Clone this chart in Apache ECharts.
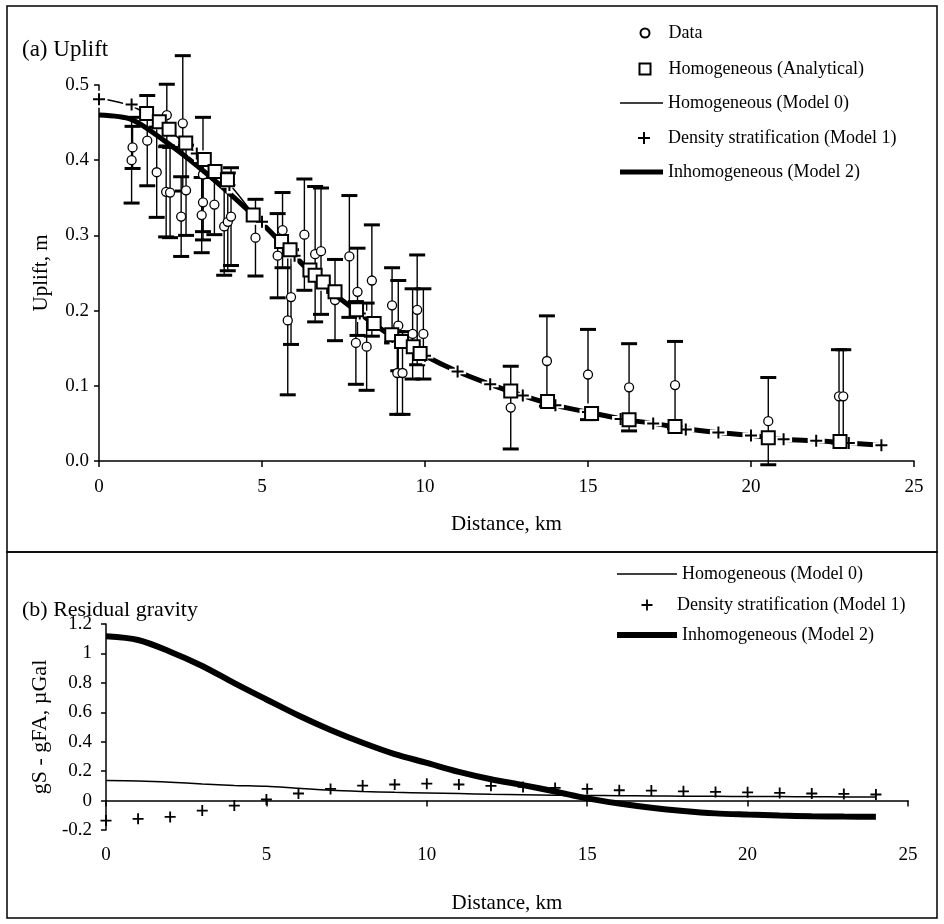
<!DOCTYPE html>
<html>
<head>
<meta charset="utf-8">
<script src="https://cdn.jsdelivr.net/npm/echarts@6/dist/echarts.min.js"></script>
<style>
  html, body { margin: 0; padding: 0; background: #fff; }
  #chart { width: 944px; height: 924px; }
</style>
</head>
<body>
<div id="chart"></div>
<script>
// model profiles, sampled every km
var distKm = [0, 1, 2, 3, 4, 5, 6, 7, 8, 9, 10, 11, 12, 13, 14, 15, 16, 17, 18, 19, 20, 21, 22, 23, 24];
var upliftModel0 = [0.482, 0.472, 0.445, 0.408, 0.368, 0.315, 0.276, 0.232, 0.198, 0.168, 0.141, 0.120, 0.100, 0.088, 0.076, 0.064, 0.057, 0.050, 0.044, 0.039, 0.034, 0.030, 0.028, 0.025, 0.022];
var upliftModel1 = [0.481, 0.474, 0.445, 0.409, 0.367, 0.318, 0.273, 0.230, 0.196, 0.165, 0.140, 0.119, 0.102, 0.087, 0.074, 0.065, 0.056, 0.050, 0.042, 0.038, 0.034, 0.029, 0.027, 0.024, 0.021];
var upliftModel2 = [0.460, 0.454, 0.426, 0.393, 0.356, 0.316, 0.272, 0.230, 0.196, 0.165, 0.140, 0.119, 0.102, 0.087, 0.074, 0.065, 0.056, 0.050, 0.043, 0.038, 0.034, 0.029, 0.027, 0.024, 0.021];

var gravityModel0 = [0.136, 0.133, 0.125, 0.113, 0.103, 0.097, 0.083, 0.070, 0.062, 0.056, 0.052, 0.048, 0.043, 0.040, 0.037, 0.035, 0.033, 0.031, 0.030, 0.029, 0.028, 0.027, 0.026, 0.025, 0.025];
var gravityModel1 = [-0.136, -0.124, -0.111, -0.068, -0.034, 0.007, 0.048, 0.079, 0.102, 0.109, 0.115, 0.109, 0.100, 0.093, 0.086, 0.079, 0.070, 0.068, 0.063, 0.059, 0.056, 0.052, 0.048, 0.045, 0.041];
var gravityModel2 = [1.116, 1.091, 1.012, 0.915, 0.798, 0.687, 0.578, 0.480, 0.393, 0.316, 0.256, 0.195, 0.145, 0.105, 0.062, 0.015, -0.020, -0.049, -0.071, -0.087, -0.095, -0.102, -0.107, -0.109, -0.110];

// observed uplift with error
var obsKm = [1.00, 1.03, 1.48, 1.77, 2.06, 2.08, 2.18, 2.52, 2.57, 2.67, 3.15, 3.19, 3.19, 3.54, 3.84, 3.95, 4.05, 4.80, 5.48, 5.63, 5.79, 5.89, 6.30, 6.63, 6.81, 7.24, 7.68, 7.88, 7.93, 8.21, 8.37, 8.99, 9.15, 9.18, 9.31, 9.62, 9.76, 9.95, 12.63, 13.74, 15.00, 16.26, 17.67, 20.53, 22.70, 22.83];
var obsUplift = [0.400, 0.417, 0.426, 0.384, 0.358, 0.460, 0.357, 0.325, 0.449, 0.360, 0.327, 0.381, 0.344, 0.341, 0.312, 0.318, 0.325, 0.297, 0.273, 0.307, 0.187, 0.218, 0.301, 0.275, 0.279, 0.214, 0.272, 0.157, 0.225, 0.152, 0.240, 0.207, 0.117, 0.180, 0.117, 0.169, 0.201, 0.169, 0.071, 0.133, 0.115, 0.098, 0.101, 0.053, 0.086, 0.086];
var obsError = [0.057, 0.028, 0.060, 0.060, 0.060, 0.041, 0.060, 0.053, 0.090, 0.060, 0.050, 0.076, 0.050, 0.040, 0.065, 0.065, 0.065, 0.051, 0.056, 0.050, 0.099, 0.063, 0.074, 0.090, 0.084, 0.054, 0.081, 0.055, 0.058, 0.058, 0.074, 0.050, 0.055, 0.060, 0.055, 0.060, 0.073, 0.060, 0.055, 0.060, 0.060, 0.058, 0.058, 0.058, 0.062, 0.062];

var analyticalKm = [1.46, 1.85, 2.15, 2.66, 3.23, 3.56, 3.94, 4.73, 5.60, 5.86, 6.47, 6.63, 6.88, 7.24, 7.90, 8.44, 8.98, 9.28, 9.64, 9.85, 12.63, 13.76, 15.11, 16.26, 17.67, 20.53, 22.73];
var analyticalUplift = [0.462, 0.451, 0.441, 0.423, 0.401, 0.385, 0.374, 0.327, 0.292, 0.281, 0.254, 0.247, 0.238, 0.225, 0.201, 0.183, 0.168, 0.159, 0.152, 0.143, 0.093, 0.079, 0.063, 0.055, 0.046, 0.031, 0.026];

var FONT = 'Liberation Serif';
var BLACK = '#000';
var CROSS = 'path://M5,0H7V5H12V7H7V12H5V7H0V5H5Z';
var HALO = 'path://M4,0H8V4H12V8H8V12H4V8H0V4H4Z';

function pairs(xs, ys) {
  return xs.map(function (x, i) { return [x, ys[i]]; });
}

function errorBars(params, api) {
  var x = api.value(0);
  var y = api.value(1);
  var e = api.value(2);
  var top = api.coord([x, y + e]);
  var bot = api.coord([x, y - e]);
  var w = 8;
  return {
    type: 'group',
    children: [
      { type: 'line', shape: { x1: top[0], y1: top[1], x2: bot[0], y2: bot[1] }, style: { stroke: BLACK, lineWidth: 1.4 } },
      { type: 'line', shape: { x1: top[0] - w, y1: top[1], x2: top[0] + w, y2: top[1] }, style: { stroke: BLACK, lineWidth: 3 } },
      { type: 'line', shape: { x1: bot[0] - w, y1: bot[1], x2: bot[0] + w, y2: bot[1] }, style: { stroke: BLACK, lineWidth: 3 } }
    ]
  };
}

function xAxisBase(grid) {
  return {
    type: 'value', gridIndex: grid, min: 0, max: 25, interval: 5,
    splitLine: { show: false },
    axisLine: { lineStyle: { color: BLACK, width: 1.5 } },
    axisTick: { length: 6, lineStyle: { color: BLACK, width: 1.5 } },
    axisLabel: { color: BLACK, fontFamily: FONT, fontSize: 19, margin: 17 },
    nameTextStyle: { color: BLACK, fontFamily: FONT, fontSize: 21 }
  };
}

function yAxisBase(grid) {
  return {
    type: 'value', gridIndex: grid,
    splitLine: { show: false },
    axisLine: { show: true, lineStyle: { color: BLACK, width: 1.5 } },
    axisTick: { show: true, length: 5, lineStyle: { color: BLACK, width: 1.5 } },
    axisLabel: { color: BLACK, fontFamily: FONT, fontSize: 19, margin: 10 },
    nameLocation: 'middle',
    nameTextStyle: { color: BLACK, fontFamily: FONT, fontSize: 21 }
  };
}

// one legend box per entry so each row sits where the reference puts it
function legendItem(name, icon, left, centerY, w, h, pad) {
  var entry = { name: name };
  if (icon) entry.icon = icon;
  return {
    data: [entry], left: left, top: centerY - 11, padding: 0,
    itemWidth: w, itemHeight: h, selectedMode: false,
    textStyle: { color: BLACK, fontFamily: FONT, fontSize: 18, lineHeight: 22, padding: [0, 0, 0, pad] }
  };
}

var xTop = xAxisBase(0);
xTop.name = 'Distance, km';
xTop.nameLocation = 'middle';
xTop.nameGap = 53;

var xBottomLabels = xAxisBase(1);
xBottomLabels.axisLine = { show: false, onZero: false };
xBottomLabels.axisTick = { show: false };
xBottomLabels.axisLabel.margin = 16;
xBottomLabels.name = 'Distance, km';
xBottomLabels.nameLocation = 'middle';
xBottomLabels.nameGap = 63;

var xBottomZero = xAxisBase(1);
xBottomZero.position = 'bottom';
xBottomZero.axisLine.onZero = true;
xBottomZero.axisLabel = { show: false };

var yTop = yAxisBase(0);
yTop.min = 0; yTop.max = 0.5; yTop.interval = 0.1;
yTop.axisLabel.formatter = function (v) { return v.toFixed(1); };
yTop.name = 'Uplift, m';
yTop.nameGap = 47;

var yBottom = yAxisBase(1);
yBottom.min = -0.2; yBottom.max = 1.2; yBottom.interval = 0.2;
yBottom.axisLabel.margin = 14;
yBottom.name = 'gS - gFA, µGal';
yBottom.nameGap = 54;
yBottom.nameTextStyle.fontSize = 22;

var option = {
  animation: false,
  backgroundColor: '#fff',
  title: [
    { text: '(a) Uplift', left: 22, top: 38, padding: 0, textStyle: { color: BLACK, fontFamily: FONT, fontSize: 23, fontWeight: 'normal' } },
    { text: '(b) Residual gravity', left: 22, top: 599, padding: 0, textStyle: { color: BLACK, fontFamily: FONT, fontSize: 22, fontWeight: 'normal' } }
  ],
  legend: [
    legendItem('Data', null, 639.5, 33, 9, 9, 14),
    legendItem('Homogeneous (Analytical)', null, 638.5, 69, 11, 11, 13),
    legendItem('Homogeneous (Model 0)', 'rect', 620, 103, 43, 1.5, 0),
    legendItem('Density stratification (Model 1)', null, 638, 138, 12, 12, 13),
    legendItem('Inhomogeneous (Model 2)', 'rect', 620, 172, 43, 5, 0),
    legendItem('Homogeneous (Model 0)', 'rect', 617, 574, 60, 1.5, 0),
    legendItem('Density stratification (Model 1)', null, 641.5, 605, 11, 11, 19.5),
    legendItem('Inhomogeneous (Model 2)', 'rect', 617, 635, 60, 6, 0)
  ],
  grid: [
    { left: 99, right: 30, top: 85, bottom: 463 },
    { left: 106, right: 36, top: 624, bottom: 94 }
  ],
  xAxis: [xTop, xBottomLabels, xBottomZero],
  yAxis: [yTop, yBottom],
  graphic: [
    { type: 'rect', silent: true, shape: { x: 7, y: 6, width: 930, height: 546 }, style: { fill: 'none', stroke: BLACK, lineWidth: 1.5 } },
    { type: 'rect', silent: true, shape: { x: 7, y: 552, width: 930, height: 366 }, style: { fill: 'none', stroke: BLACK, lineWidth: 1.5 } }
  ],
  series: [
    {
      type: 'custom', name: 'error', xAxisIndex: 0, yAxisIndex: 0, silent: true, z: 1,
      renderItem: errorBars,
      encode: { x: 0, y: 1 },
      data: obsKm.map(function (x, i) { return [x, obsUplift[i], obsError[i]]; })
    },
    {
      type: 'scatter', name: 'Data', xAxisIndex: 0, yAxisIndex: 0, silent: true, z: 2,
      symbol: 'circle', symbolSize: 9,
      itemStyle: { color: '#fff', borderColor: BLACK, borderWidth: 1.3, opacity: 1 },
      data: pairs(obsKm, obsUplift)
    },
    {
      type: 'line', name: 'Inhomogeneous (Model 2)', xAxisIndex: 0, yAxisIndex: 0, silent: true, z: 3,
      symbol: 'none', smooth: 0.3,
      lineStyle: { color: BLACK, width: 5 }, itemStyle: { color: BLACK },
      data: pairs(distKm, upliftModel2)
    },
    {
      type: 'line', name: 'Homogeneous (Model 0)', xAxisIndex: 0, yAxisIndex: 0, silent: true, z: 3,
      symbol: 'none', smooth: 0.3,
      lineStyle: { color: BLACK, width: 1.5 }, itemStyle: { color: BLACK },
      data: pairs(distKm, upliftModel0)
    },
    {
      type: 'scatter', name: 'halo', xAxisIndex: 0, yAxisIndex: 0, silent: true, z: 4,
      symbol: HALO, symbolSize: 17,
      itemStyle: { color: '#fff', opacity: 1 },
      data: pairs(distKm, upliftModel1)
    },
    {
      type: 'scatter', name: 'Density stratification (Model 1)', xAxisIndex: 0, yAxisIndex: 0, silent: true, z: 5,
      symbol: CROSS, symbolSize: 12,
      itemStyle: { color: BLACK, opacity: 1 },
      data: pairs(distKm, upliftModel1)
    },
    {
      type: 'scatter', name: 'Homogeneous (Analytical)', xAxisIndex: 0, yAxisIndex: 0, silent: true, z: 6,
      symbol: 'rect', symbolSize: 13,
      itemStyle: { color: '#fff', borderColor: BLACK, borderWidth: 2, opacity: 1 },
      data: pairs(analyticalKm, analyticalUplift)
    },
    {
      type: 'line', name: 'Inhomogeneous (Model 2)', xAxisIndex: 1, yAxisIndex: 1, silent: true, z: 3,
      symbol: 'none', smooth: 0.3,
      lineStyle: { color: BLACK, width: 6 }, itemStyle: { color: BLACK },
      data: pairs(distKm, gravityModel2)
    },
    {
      type: 'line', name: 'Homogeneous (Model 0)', xAxisIndex: 1, yAxisIndex: 1, silent: true, z: 3,
      symbol: 'none', smooth: 0.3,
      lineStyle: { color: BLACK, width: 1.5 }, itemStyle: { color: BLACK },
      data: pairs(distKm, gravityModel0)
    },
    {
      type: 'scatter', name: 'Density stratification (Model 1)', xAxisIndex: 1, yAxisIndex: 1, silent: true, z: 5,
      symbol: CROSS, symbolSize: 11,
      itemStyle: { color: BLACK, opacity: 1 },
      data: pairs(distKm, gravityModel1)
    }
  ]
};

var chart = echarts.init(document.getElementById('chart'));
chart.setOption(option);
</script>
</body>
</html>
